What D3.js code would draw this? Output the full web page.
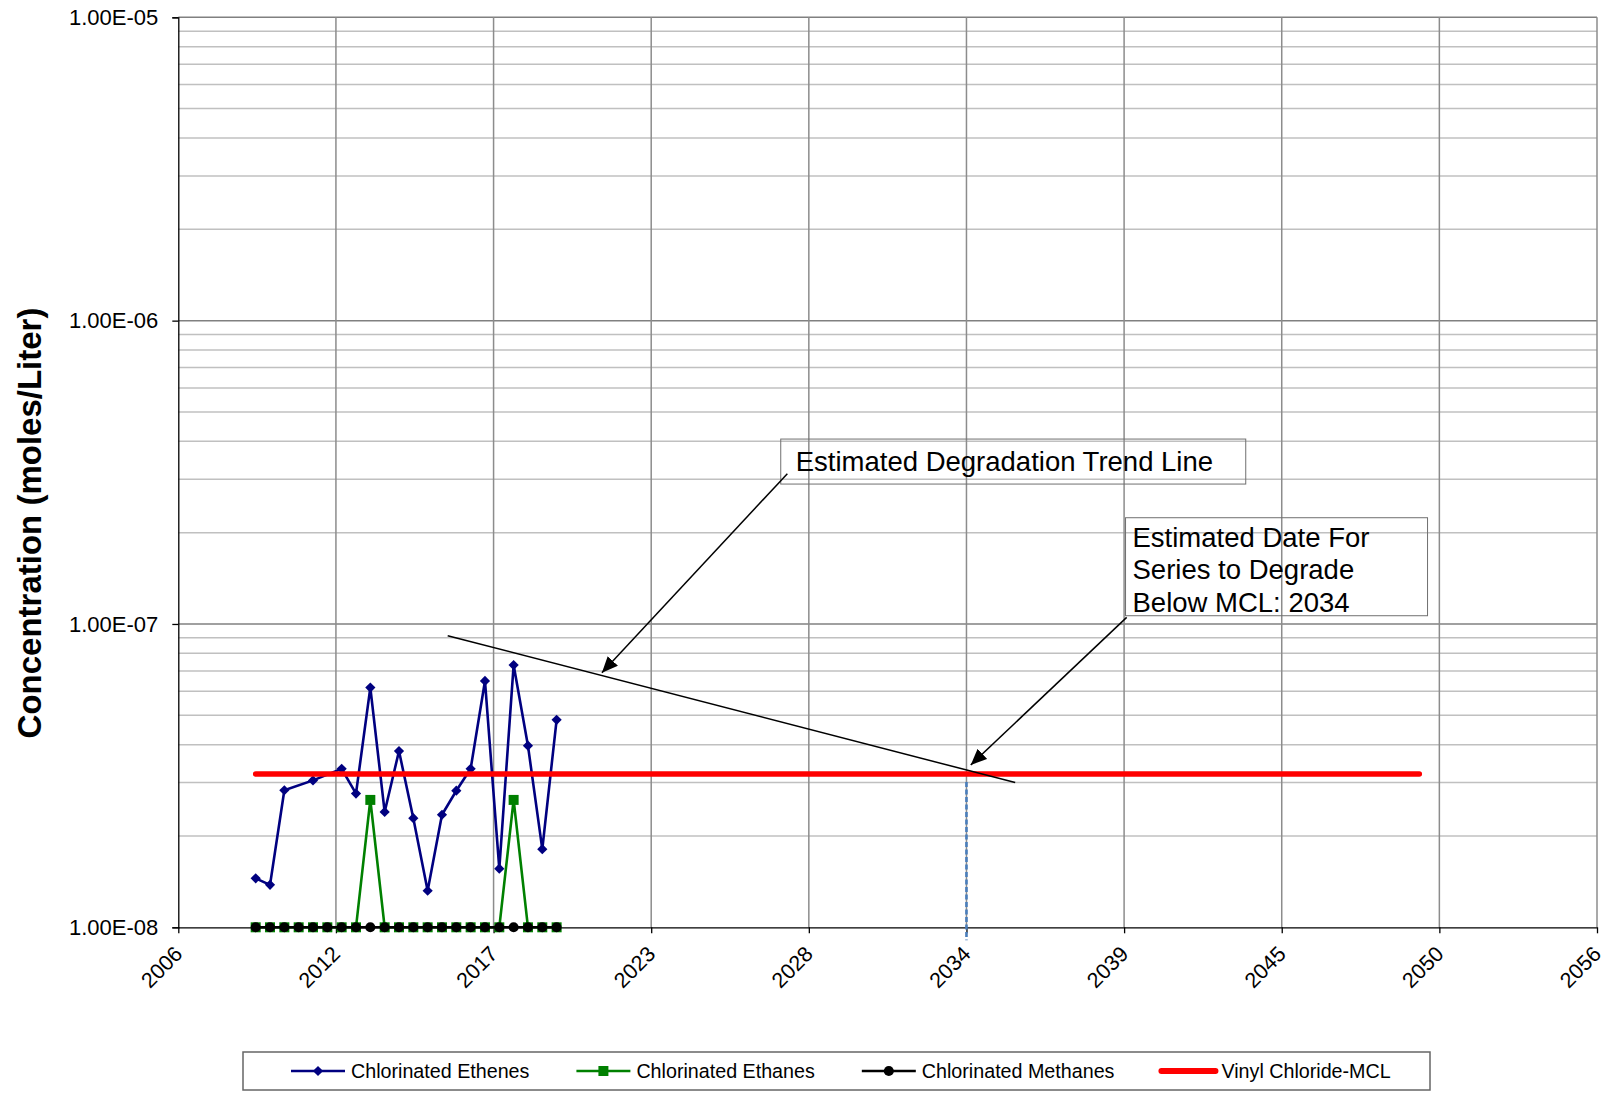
<!DOCTYPE html>
<html>
<head>
<meta charset="utf-8">
<title>Concentration trend</title>
<script src="https://d3js.org/d3.v7.min.js"></script>
<style>
	body { margin:0; background:#fff; }
	text { font-family: Arial, "Liberation Sans", sans-serif; fill:#000; }
</style>
</head>
<body>
<script>
	/************** data *****************/
	// sampling dates as decimal years
	var sampleDates = [2009.2, 2009.7, 2010.2, 2010.7, 2011.2, 2011.7, 2012.2, 2012.7, 2013.2, 2013.7, 2014.2,
	                   2014.7, 2015.2, 2015.7, 2016.2, 2016.7, 2017.2, 2017.7, 2018.2, 2018.7, 2019.2, 2019.7];
	var ethenes  = [1.45e-8, 1.38e-8, 2.83e-8, null, 3.05e-8, null, 3.33e-8, 2.76e-8, 6.17e-8, 2.40e-8, 3.81e-8,
	                2.29e-8, 1.32e-8, 2.35e-8, 2.82e-8, 3.33e-8, 6.49e-8, 1.56e-8, 7.32e-8, 3.97e-8, 1.81e-8, 4.83e-8];
	var ethanes  = [1e-8, 1e-8, 1e-8, 1e-8, 1e-8, 1e-8, 1e-8, 1e-8, 2.63e-8, 1e-8, 1e-8,
	                1e-8, 1e-8, 1e-8, 1e-8, 1e-8, 1e-8, 1e-8, 2.63e-8, 1e-8, 1e-8, 1e-8];
	var methanes = [1e-8, 1e-8, 1e-8, 1e-8, 1e-8, 1e-8, 1e-8, 1e-8, 1e-8, 1e-8, 1e-8,
	                1e-8, 1e-8, 1e-8, 1e-8, 1e-8, 1e-8, 1e-8, 1e-8, 1e-8, 1e-8, 1e-8];
	var mclValue = 3.2e-8;
	var mclYears = [2009.2, 2049.8];
	var trendYears = [2015.9, 2035.7];
	var trendValues = [9.15e-8, 3.0e-8];
	var belowMclYear = 2034;

	var xTickValues = [2006.5, 2012, 2017.5, 2023, 2028.5, 2034, 2039.5, 2045, 2050.5, 2056];
	var xTickLabels = ["2006", "2012", "2017", "2023", "2028", "2034", "2039", "2045", "2050", "2056"];
	var yTickValues = [1e-8, 1e-7, 1e-6, 1e-5];
	var yTickLabels = ["1.00E-08", "1.00E-07", "1.00E-06", "1.00E-05"];

	var seriesNames  = ["Chlorinated Ethenes", "Chlorinated Ethanes", "Chlorinated Methanes", "Vinyl Chloride-MCL"];
	var seriesColors = ["#000080", "#008000", "#000000", "#ff0000"];

	var annotations = [
		{lines:["Estimated Degradation Trend Line"], at:[2027.52, 4.07e-7], w:465, h:45, dx:15, base:32, step:0,
		 from:[2027.75, 3.13e-7], to:[2021.28, 6.91e-8]},
		{lines:["Estimated Date For", "Series to Degrade", "Below MCL: 2034"], at:[2039.55, 2.24e-7], w:302, h:98, dx:7, base:29, step:32.5,
		 from:[2039.59, 1.051e-7], to:[2034.15, 3.43e-8]}
	];

	/************** layout *****************/
	var width = 1608, height = 1097;
	var margin = {top:17.3, left:178.3, right:11, bottom:169.7};
	var plotW = width - margin.left - margin.right;
	var plotH = height - margin.top - margin.bottom;

	var svg = d3.select("body").append("svg")
		.attr("width", width).attr("height", height);

	var defs = svg.append("defs");
	defs.append("marker")
		.attr("id", "arrow")
		.attr("markerUnits", "userSpaceOnUse")
		.attr("viewBox", "0 0 16 14")
		.attr("refX", 16).attr("refY", 7)
		.attr("markerWidth", 16).attr("markerHeight", 14)
		.attr("orient", "auto")
		.append("path").attr("d", "M0,0 L16,7 L0,14 Z").attr("fill", "#000");

	var x = d3.scaleLinear().domain([2006.5, 2056]).range([0, plotW]);
	var y = d3.scaleLog().domain([1e-8, 1e-5]).range([plotH, 0]);

	var g = svg.append("g").attr("transform", "translate(" + margin.left + "," + margin.top + ")");

	// minor horizontal grid
	var minorVals = [];
	[1e-8, 1e-7, 1e-6].forEach(function(dec){
		for (var k = 2; k <= 9; k++) minorVals.push(dec * k);
	});
	g.selectAll(".minor").data(minorVals).enter().append("line")
		.attr("x1", 0).attr("x2", plotW)
		.attr("y1", function(d){ return y(d); }).attr("y2", function(d){ return y(d); })
		.attr("stroke", "#c0c0c0").attr("stroke-width", 1.5);
	// major horizontal grid
	g.selectAll(".major").data(yTickValues.slice(1)).enter().append("line")
		.attr("x1", 0).attr("x2", plotW)
		.attr("y1", function(d){ return y(d); }).attr("y2", function(d){ return y(d); })
		.attr("stroke", "#808080").attr("stroke-width", 1.5);
	// vertical grid
	g.selectAll(".vgrid").data(xTickValues.slice(1)).enter().append("line")
		.attr("x1", function(d){ return x(d); }).attr("x2", function(d){ return x(d); })
		.attr("y1", 0).attr("y2", plotH)
		.attr("stroke", "#8c8c8c").attr("stroke-width", 1.5);

	// axes
	var yAxis = d3.axisLeft(y).tickValues(yTickValues)
		.tickFormat(function(d, i){ return yTickLabels[i]; })
		.tickSize(6).tickPadding(14);
	var gy = g.append("g").call(yAxis);
	gy.selectAll("text").attr("font-size", "22px").attr("font-family", "Arial, 'Liberation Sans', sans-serif");
	gy.selectAll("line,path").attr("stroke", "#000").attr("stroke-width", 1.3);

	var xAxis = d3.axisBottom(x).tickValues(xTickValues)
		.tickFormat(function(d, i){ return xTickLabels[i]; })
		.tickSize(6).tickSizeOuter(0);
	var gx = g.append("g").attr("transform", "translate(0," + plotH + ")").call(xAxis);
	gx.selectAll("line,path").attr("stroke", "#000").attr("stroke-width", 1.3);
	gx.selectAll("text")
		.attr("font-size", "21.5px").attr("font-family", "Arial, 'Liberation Sans', sans-serif")
		.attr("text-anchor", "end").attr("dy", null).attr("y", 0)
		.attr("transform", "translate(5,28) rotate(-45)");

	// y axis title
	svg.append("text")
		.attr("transform", "translate(41,523) rotate(-90)")
		.attr("text-anchor", "middle")
		.attr("font-size", "33px").attr("font-weight", "bold")
		.text("Concentration (moles/Liter)");

	// dashed line at the year the trend drops below the MCL
	g.append("line")
		.attr("x1", x(belowMclYear)).attr("x2", x(belowMclYear))
		.attr("y1", y(mclValue) + 8).attr("y2", plotH + 13)
		.attr("stroke", "#4a7ebb").attr("stroke-width", 2.6)
		.attr("stroke-dasharray", "5,2.5");

	/************** series *****************/
	var line = d3.line().x(function(d){ return x(d[0]); }).y(function(d){ return y(d[1]); });
	function pairs(vals){
		return sampleDates.map(function(d, i){ return [d, vals[i]]; })
			.filter(function(p){ return p[1] != null; });
	}
	var diamond = d3.symbol(d3.symbolSquare, 52);
	var square = d3.symbol(d3.symbolSquare, 100);
	var circle = d3.symbol(d3.symbolCircle, 80);

	// ethenes
	var eth = pairs(ethenes);
	g.append("path").attr("d", line(eth)).attr("fill", "none")
		.attr("stroke", seriesColors[0]).attr("stroke-width", 2.6);
	g.selectAll(".p0").data(eth).enter().append("path")
		.attr("d", diamond).attr("fill", seriesColors[0])
		.attr("transform", function(d){ return "translate(" + x(d[0]) + "," + y(d[1]) + ") rotate(45)"; });

	// ethanes
	var etha = pairs(ethanes);
	g.append("path").attr("d", line(etha)).attr("fill", "none")
		.attr("stroke", seriesColors[1]).attr("stroke-width", 2.6);
	g.selectAll(".p1").data(etha).enter().append("path")
		.attr("d", square).attr("fill", seriesColors[1])
		.attr("transform", function(d){ return "translate(" + x(d[0]) + "," + y(d[1]) + ")"; });

	// methanes
	var meth = pairs(methanes);
	g.append("path").attr("d", line(meth)).attr("fill", "none")
		.attr("stroke", seriesColors[2]).attr("stroke-width", 2.6);
	g.selectAll(".p2").data(meth).enter().append("path")
		.attr("d", circle).attr("fill", seriesColors[2])
		.attr("transform", function(d){ return "translate(" + x(d[0]) + "," + y(d[1]) + ")"; });

	// MCL
	g.append("line")
		.attr("x1", x(mclYears[0])).attr("x2", x(mclYears[1]))
		.attr("y1", y(mclValue)).attr("y2", y(mclValue))
		.attr("stroke", seriesColors[3]).attr("stroke-width", 5.5)
		.attr("stroke-linecap", "round");

	// trend line
	g.append("line")
		.attr("x1", x(trendYears[0])).attr("x2", x(trendYears[1]))
		.attr("y1", y(trendValues[0])).attr("y2", y(trendValues[1]))
		.attr("stroke", "#000").attr("stroke-width", 1.5);

	/************** annotations *****************/
	annotations.forEach(function(a){
		var bx = x(a.at[0]), by = y(a.at[1]);
		g.append("rect").attr("x", bx).attr("y", by).attr("width", a.w).attr("height", a.h)
			.attr("fill", "none").attr("stroke", "#707070").attr("stroke-width", 1);
		a.lines.forEach(function(t, i){
			g.append("text").attr("x", bx + a.dx).attr("y", by + a.base + i * a.step)
				.attr("font-size", "27.5px").text(t);
		});
		g.append("line")
			.attr("x1", x(a.from[0])).attr("y1", y(a.from[1]))
			.attr("x2", x(a.to[0])).attr("y2", y(a.to[1]))
			.attr("stroke", "#000").attr("stroke-width", 1.5)
			.attr("marker-end", "url(#arrow)");
	});

	/************** legend *****************/
	var legend = svg.append("g").attr("transform", "translate(243,1052)");
	legend.append("rect").attr("width", 1187).attr("height", 38)
		.attr("fill", "#fff").attr("stroke", "#666").attr("stroke-width", 1.5);
	var lx = 48, ly = 19;
	var legendSymbols = [diamond, square, circle, null];
	seriesNames.forEach(function(name, i){
		var item = legend.append("g").attr("transform", "translate(" + lx + "," + ly + ")");
		item.append("line").attr("x1", 0).attr("x2", 54).attr("y1", 0).attr("y2", 0)
			.attr("stroke", seriesColors[i])
			.attr("stroke-width", i == 3 ? 6 : 2.6)
			.attr("stroke-linecap", i == 3 ? "round" : "butt");
		if (legendSymbols[i]) {
			item.append("path").attr("d", legendSymbols[i]).attr("fill", seriesColors[i])
				.attr("transform", "translate(27,0)" + (i == 0 ? " rotate(45)" : ""));
		}
		var t = item.append("text").attr("x", 60).attr("y", 7)
			.attr("font-size", "19.7px").text(name);
		lx += 60 + t.node().getComputedTextLength() + 47;
	});
</script>
</body>
</html>
